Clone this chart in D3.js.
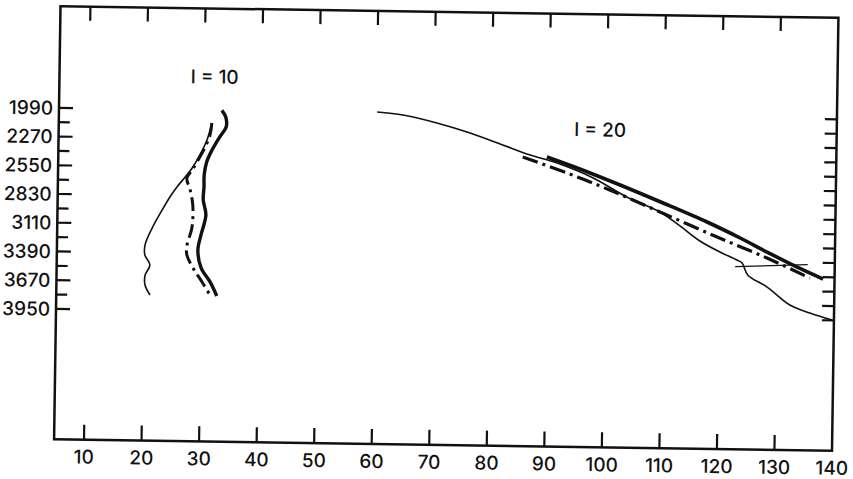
<!DOCTYPE html>
<html>
<head>
<meta charset="utf-8">
<script src="https://cdn.jsdelivr.net/npm/d3@7"></script>
<style>
  body { margin: 0; background: #fff; }
  .lbl { font-family: Inter, "Liberation Sans", sans-serif; font-size: 19px; font-weight: 500; fill: #111; }
</style>
</head>
<body>
<svg class="chart"></svg>
<script>
// tick values
var xTicks = [10, 20, 30, 40, 50, 60, 70, 80, 90, 100, 110, 120, 130, 140];
var yLabels = [1990, 2270, 2550, 2830, 3110, 3390, 3670, 3950];
var yTicks = [1990, 2130, 2270, 2410, 2550, 2690, 2830, 2970, 3110, 3250, 3390, 3530, 3670, 3810, 3950];

// l = 10 curves
var l10Thin = [[31.4, 2116], [30.6, 2282], [29.4, 2429], [28.1, 2557], [26.9, 2646], [25.5, 2744], [24.3, 2843],
  [22.9, 2980], [21.3, 3148], [20.1, 3315], [20.1, 3412], [21.0, 3508], [20.2, 3607], [20.2, 3704], [21.1, 3801]];
var l10Thick = [[33.1, 1991], [33.8, 2055], [33.9, 2153], [32.8, 2251], [31.5, 2379], [30.6, 2496], [30.2, 2624],
  [30.2, 2741], [30.1, 2867], [30.6, 3013], [29.8, 3208], [29.3, 3355], [29.9, 3530], [31.5, 3665], [32.7, 3801]];
var l10DashDot = [[31.4, 2116], [31.1, 2233], [30.3, 2351], [29.1, 2478], [28.1, 2577], [27.2, 2655], [27.8, 2772],
  [28.3, 2918], [28.2, 3142], [27.4, 3308], [27.4, 3406], [28.5, 3532], [30.1, 3666], [31.5, 3792]];

// l = 20 curves
var l20Thin = [[60.1, 1984], [64.6, 2010], [70.5, 2083], [76.3, 2176], [82.0, 2288], [86.8, 2382], [91.5, 2456],
  [97.8, 2596], [103.7, 2777], [109.5, 2918], [113.0, 3051], [116.5, 3195], [120.0, 3299], [123.0, 3375],
  [123.9, 3403], [124.9, 3519], [128.3, 3634], [132.3, 3806], [135.8, 3881], [139.7, 3946]];
var l20Thick = [[89.7, 2398], [95.0, 2501], [102.5, 2661], [110.0, 2830], [117.7, 3009], [123.5, 3160],
  [128.2, 3293], [133.4, 3434], [138.0, 3548]];
var l20DashDot = [[85.5, 2402], [93.2, 2551], [100.7, 2711], [109.5, 2918], [119.5, 3154], [128.2, 3351], [135.7, 3540]];
var l20Marker = [[122.7, 3440], [135.3, 3410]];

var width = 853, height = 479;
var box = { left: 57.25, right: 835.25, top: 12, bottom: 445 };

var x = d3.scaleLinear().domain([4.8, 140]).range([box.left, box.right]);
var y = d3.scaleLinear().domain([1000, 5220]).range([box.top, box.bottom]);

var svg = d3.select('.chart')
  .attr('width', width)
  .attr('height', height);

// the scanned page sits a little askew
var chart = svg.append('g')
  .attr('transform', 'rotate(0.85,446.25,228.5)');

var ink = '#111';

// frame
chart.append('rect')
  .attr('x', box.left)
  .attr('y', box.top)
  .attr('width', box.right - box.left)
  .attr('height', box.bottom - box.top)
  .attr('fill', 'none')
  .attr('stroke', ink)
  .attr('stroke-width', 2.5);

var inner = xTicks.filter(d => d < 140);

// bottom and top ticks, pointing inward
chart.selectAll('.xb').data(inner).enter().append('line')
  .attr('x1', d => x(d)).attr('x2', d => x(d))
  .attr('y1', box.bottom).attr('y2', box.bottom - 15)
  .attr('stroke', ink).attr('stroke-width', 2.2);

chart.selectAll('.xt').data(inner).enter().append('line')
  .attr('x1', d => x(d)).attr('x2', d => x(d))
  .attr('y1', box.top).attr('y2', box.top + 14)
  .attr('stroke', ink).attr('stroke-width', 2.2);

chart.selectAll('.xl').data(xTicks).enter().append('text')
  .attr('class', 'lbl')
  .attr('x', d => x(d))
  .attr('y', box.bottom + 24)
  .attr('text-anchor', 'middle')
  .text(d => d);

// left ticks: labelled ones a bit longer
chart.selectAll('.yl').data(yTicks).enter().append('line')
  .attr('x1', box.left)
  .attr('x2', d => box.left + (yLabels.indexOf(d) >= 0 ? 14 : 11))
  .attr('y1', d => y(d)).attr('y2', d => y(d))
  .attr('stroke', ink).attr('stroke-width', 2.2);

chart.selectAll('.yr').data(yTicks).enter().append('line')
  .attr('x1', box.right).attr('x2', box.right - 12)
  .attr('y1', d => y(d)).attr('y2', d => y(d))
  .attr('stroke', ink).attr('stroke-width', 2.2);

chart.selectAll('.ylab').data(yLabels).enter().append('text')
  .attr('class', 'lbl')
  .attr('x', box.left - 6)
  .attr('y', d => y(d))
  .attr('dy', '0.36em')
  .attr('text-anchor', 'end')
  .text(d => d);

// curves
var line = d3.line()
  .x(d => x(d[0]))
  .y(d => y(d[1]))
  .curve(d3.curveCatmullRom.alpha(0.5));

function draw(data, w, dash) {
  chart.append('path')
    .datum(data)
    .attr('d', line)
    .attr('fill', 'none')
    .attr('stroke', ink)
    .attr('stroke-width', w)
    .attr('stroke-dasharray', dash || null)
    .attr('stroke-linejoin', 'round');
}

draw(l10Thin, 1.6);
draw(l10Thick, 3.4);
draw(l10DashDot, 3, '14,5,3,5');
draw(l20Thin, 1.6);
draw(l20Thick, 3.6);
draw(l20DashDot, 3.2, '16,5,3,5');

chart.append('path')
  .datum(l20Marker)
  .attr('d', d3.line().x(d => x(d[0])).y(d => y(d[1])))
  .attr('fill', 'none')
  .attr('stroke', ink)
  .attr('stroke-width', 1.4);

// curve labels
chart.append('text').attr('class', 'lbl')
  .attr('x', x(31.8)).attr('y', y(1731))
  .attr('text-anchor', 'middle')
  .text('l = 10');

chart.append('text').attr('class', 'lbl')
  .attr('x', x(98.9)).attr('y', y(2191))
  .attr('text-anchor', 'middle')
  .text('l = 20');
</script>
</body>
</html>
